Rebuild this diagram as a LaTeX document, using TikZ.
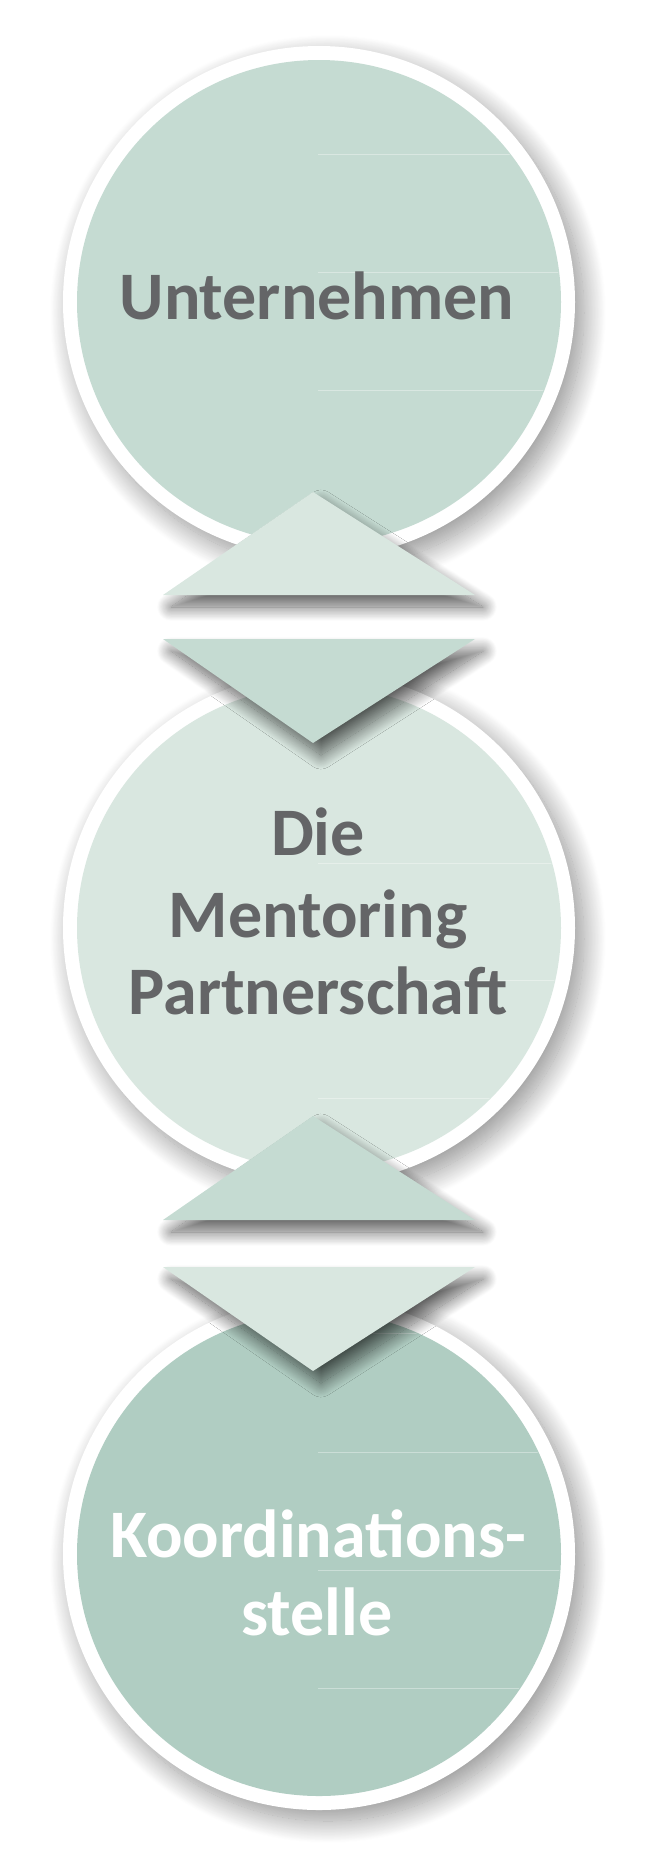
\documentclass[tikz,border=0pt]{standalone}
\usepackage{fontspec}
\setmainfont{Carlito}
\usetikzlibrary{shadows.blur}
\definecolor{cA}{HTML}{C5DBD2}
\definecolor{cB}{HTML}{D9E7E0}
\definecolor{cC}{HTML}{B0CDC2}
\definecolor{txt}{HTML}{646567}
\begin{document}
\begin{tikzpicture}[x=1pt,y=-1pt,
  ring/.style={circle, fill=white, inner sep=0pt, minimum size=512pt,
    blur shadow={shadow xshift=9pt, shadow yshift=-11pt, shadow blur radius=22pt, shadow blur steps=30, shadow opacity=42}},
  disc/.style={circle, inner sep=0pt, minimum size=484pt},
  tri/.style={blur shadow={shadow xshift=8pt, shadow yshift=-12pt, shadow blur radius=14pt, shadow blur steps=24, shadow opacity=62}},
  lbl/.style={font=\fontsize{68}{80}\selectfont\bfseries, anchor=base, inner sep=0pt},
  rule/.style={draw=white, draw opacity=0.35, line width=0.8pt}
]
\useasboundingbox (0,0) rectangle (667,1872);
% circles
\node[ring] (r1) at (319,302) {};
\node[disc, fill=cA] (d1) at (319,302) {};
\node[ring] (r2) at (319,928) {};
\node[disc, fill=cB] (d2) at (319,928) {};
\node[ring] (r3) at (319,1554) {};
\node[disc, fill=cC] (d3) at (319,1554) {};
% faint rules
\begin{scope}
\clip (d1.center) circle (241);
\foreach \y in {154,272,390} \draw[rule] (318,\y) -- (600,\y);
\end{scope}
\begin{scope}
\clip (d2.center) circle (241);
\foreach \y in {863,980,1098} \draw[rule] (318,\y) -- (600,\y);
\end{scope}
\begin{scope}
\clip (d3.center) circle (241);
\foreach \y in {1333,1452,1570,1688} \draw[rule] (318,\y) -- (600,\y);
\end{scope}
% texts
\node[lbl, text=txt] (t1) at (317,319) {Unternehmen};
\node[lbl, text=txt] (t2a) at (318,855) {Die};
\node[lbl, text=txt] (t2b) at (318,937) {Mentoring};
\node[lbl, text=txt] (t2c) at (318,1014) {Partnerschaft};
\node[lbl, text=white] (t3a) at (318,1557) {Koordinations-};
\node[lbl, text=white] (t3b) at (317,1635) {stelle};
% triangles
\fill[cB, tri] (313,492) -- (475,595) -- (163,595) -- cycle;
\fill[cA, tri] (163,639) -- (475,639) -- (313,743) -- cycle;
\fill[cA, tri] (313,1116) -- (475,1220) -- (163,1220) -- cycle;
\fill[cB, tri] (163,1267) -- (475,1267) -- (313,1371) -- cycle;
\end{tikzpicture}
\end{document}
